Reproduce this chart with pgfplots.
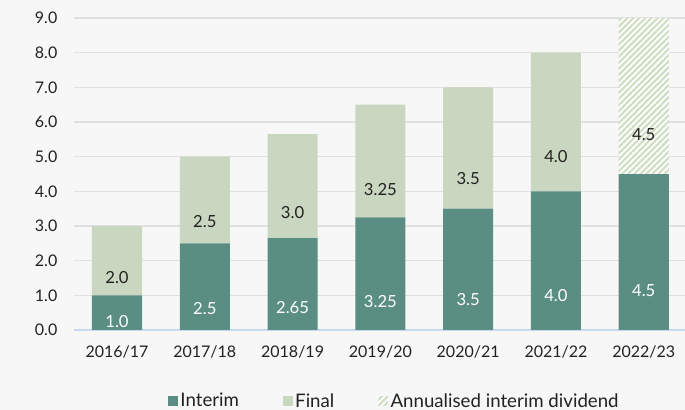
\documentclass[border=0pt]{standalone}
\usepackage{pgfplots}
\pgfplotsset{compat=1.18}
\usepackage{pgfplotstable}
\usetikzlibrary{patterns.meta}
\usepackage{fontspec}
\setmainfont{Lato}
\definecolor{interim}{HTML}{5B8E82}
\definecolor{final}{HTML}{CAD7C0}
\definecolor{hatch}{HTML}{CFDDC3}
\definecolor{bg}{HTML}{F7F7F7}
\definecolor{gridc}{HTML}{E0E0E0}
\definecolor{xline}{HTML}{C8D8EE}
\definecolor{txt}{HTML}{222222}
\pgfplotstableread{
x interim final annual il fl al
0 1.0  2.0  0   1.0  2.0  {}
1 2.5  2.5  0   2.5  2.5  {}
2 2.65 3.0  0   2.65 3.0  {}
3 3.25 3.25 0   3.25 3.25 {}
4 3.5  3.5  0   3.5  3.5  {}
5 4.0  4.0  0   4.0  4.0  {}
6 4.5  0    4.5 4.5  {}   4.5
}\data
\begin{document}
\begin{tikzpicture}
\fill[bg] (-55.5pt,-60pt) rectangle (458.25pt,247.5pt);
\begin{axis}[
  at={(0,0)}, anchor=south west,
  scale only axis, width=458.25pt, height=234pt,
  ybar stacked, bar width=0.57,
  xmin=-0.49, xmax=6.47, ymin=0, ymax=9,
  xtick=data,
  xticklabels={2016/17,2017/18,2018/19,2019/20,2020/21,2021/22,2022/23},
  ytick={0,1,...,9},
  yticklabel={\pgfmathprintnumber[fixed,fixed zerofill,precision=1]{\tick}},
  /pgf/number format/assume math mode=true,
  axis x line*=bottom, axis y line*=left,
  y axis line style={draw=none},
  x axis line style={draw=xline, line width=1pt, -},
  major tick length=0pt,
  ymajorgrids, grid style={gridc, line width=0.8pt},
  tick label style={font=\fontsize{12}{14}\selectfont, text=txt},
  xticklabel style={yshift=-8pt},
  yticklabel style={xshift=-9pt},
  legend columns=3,
  legend style={at={(0.525,-0.228)}, anchor=center, draw=none, fill=none,
    font=\fontsize{14}{16}\selectfont, text=txt,
    /tikz/every odd column/.append style={column sep=0pt}},
  legend image code/.code={\path[#1,draw=none] (0pt,-3.6pt) rectangle (7.2pt,3.6pt);},
  nodes near coords,
  point meta=explicit symbolic,
  every node near coord/.append style={font=\fontsize{12.5}{14}\selectfont, anchor=center,
    shift={(axis direction cs:0,-\halfy)}},
]
\addplot[fill=interim, draw=none,
  visualization depends on={0.25*\thisrow{interim} \as \halfy},
  nodes near coords style={text=white}]
  table[x=x, y=interim, meta=il] {\data};
\addlegendentry{Interim\rule{31pt}{0pt}}
\addplot[fill=final, draw=none,
  visualization depends on={0.25*\thisrow{final} \as \halfy},
  nodes near coords style={text=txt}]
  table[x=x, y=final, meta=fl] {\data};
\addlegendentry{Final\rule{31pt}{0pt}}
\addplot[fill=white, draw=none,
  postaction={pattern={Lines[angle=45,distance=3.2pt,line width=1.6pt]}, pattern color=hatch},
  visualization depends on={0.25*\thisrow{annual} \as \halfy},
  nodes near coords style={text=txt}]
  table[x=x, y=annual, meta=al] {\data};
\addlegendentry{Annualised interim dividend}
\end{axis}
\pgfresetboundingbox
\path (-55.5pt,-60pt) rectangle (458.25pt,247.5pt);
\end{tikzpicture}
\end{document}
